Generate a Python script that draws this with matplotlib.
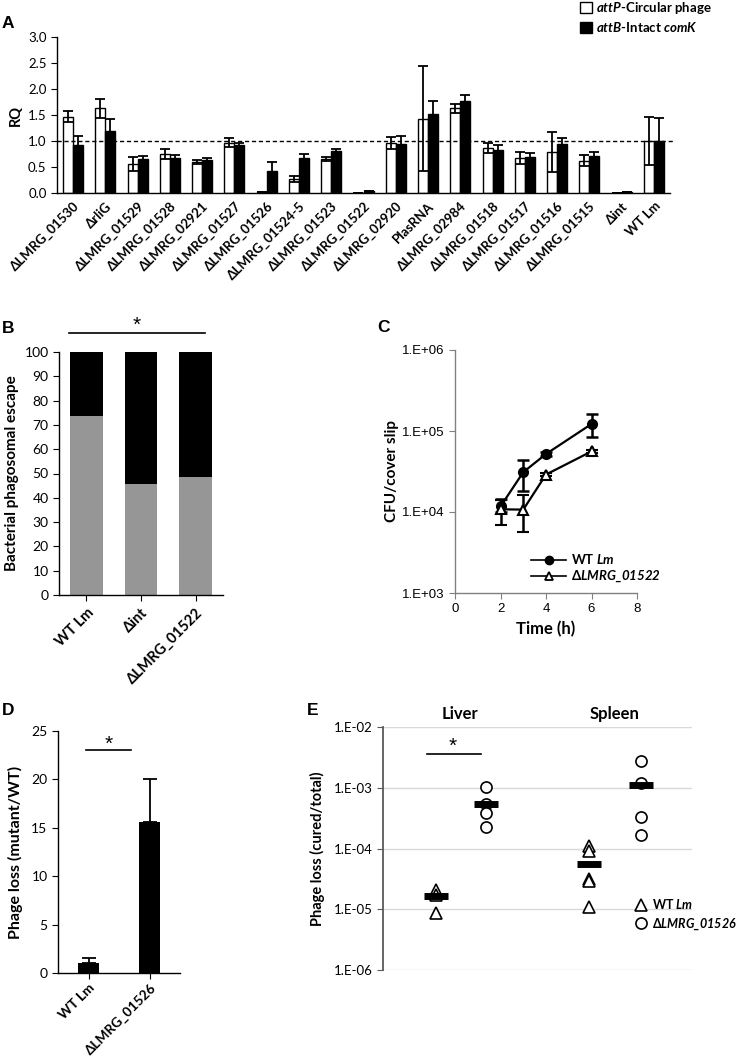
import numpy as np
import matplotlib
matplotlib.use("Agg")
import matplotlib.pyplot as plt
from matplotlib.lines import Line2D
from matplotlib.patches import Patch

plt.rcParams['font.family'] = ['Lato', 'DejaVu Sans']
plt.rcParams['mathtext.fontset'] = 'custom'
plt.rcParams['mathtext.rm'] = 'Lato'
plt.rcParams['mathtext.it'] = 'Lato:italic'
plt.rcParams['mathtext.bf'] = 'Lato:bold'
plt.rcParams['mathtext.bfit'] = 'Lato:italic:bold'
plt.rcParams['axes.linewidth'] = 1.0

# ---- panel A data
a_labels = ['ΔLMRG_01530', 'ΔrliG', 'ΔLMRG_01529', 'ΔLMRG_01528', 'ΔLMRG_02921',
            'ΔLMRG_01527', 'ΔLMRG_01526', 'ΔLMRG_01524-5', 'ΔLMRG_01523', 'ΔLMRG_01522',
            'ΔLMRG_02920', 'PlasRNA', 'ΔLMRG_02984', 'ΔLMRG_01518', 'ΔLMRG_01517',
            'ΔLMRG_01516', 'ΔLMRG_01515', 'Δint', 'WT Lm']
attp = [1.47, 1.63, 0.56, 0.75, 0.59, 0.97, 0.02, 0.27, 0.65, 0.005,
        0.96, 1.43, 1.63, 0.87, 0.67, 0.79, 0.62, 0.005, 1.0]
attp_err = [0.10, 0.18, 0.13, 0.09, 0.04, 0.08, 0.0, 0.06, 0.04, 0.0,
            0.12, 1.01, 0.09, 0.10, 0.11, 0.39, 0.11, 0.0, 0.46]
attb = [0.92, 1.20, 0.65, 0.68, 0.64, 0.93, 0.42, 0.67, 0.81, 0.03,
        0.95, 1.52, 1.76, 0.83, 0.70, 0.95, 0.71, 0.01, 1.0]
attb_err = [0.17, 0.22, 0.07, 0.05, 0.03, 0.04, 0.17, 0.08, 0.04, 0.0,
            0.15, 0.24, 0.12, 0.09, 0.07, 0.10, 0.08, 0.0, 0.44]

# ---- panel B data
b_labels = ['WT Lm', 'Δint', 'ΔLMRG_01522']
b_gray = [73.5, 45.7, 48.5]
b_total = [100, 100, 100]

# ---- panel C data
c_time_wt = [2, 3, 4, 6]
c_wt = [1.17e4, 3.1e4, 5.2e4, 1.22e5]
c_wt_lo = [1.0e4, 1.83e4, 4.9e4, 8.4e4]
c_wt_hi = [1.46e4, 4.4e4, 5.5e4, 1.6e5]
c_time_mut = [2, 3, 4, 6]
c_mut = [1.08e4, 1.07e4, 2.9e4, 5.6e4]
c_mut_lo = [7.0e3, 5.7e3, 2.75e4, 5.3e4]
c_mut_hi = [1.4e4, 1.6e4, 3.05e4, 5.9e4]

# ---- panel D data
d_labels = ['WT Lm', 'ΔLMRG_01526']
d_vals = [1.0, 15.6]
d_err = [0.6, 4.4]

# ---- panel E data
e_liver_wt = [2.1e-5, 1.7e-5, 8.8e-6]
e_liver_mut = [1.04e-3, 5.5e-4, 3.8e-4, 2.3e-4]
e_spleen_wt = [1.12e-4, 9.2e-5, 3.1e-5, 2.9e-5, 1.09e-5]
e_spleen_mut = [2.74e-3, 1.18e-3, 3.3e-4, 1.66e-4]
e_medians = [1.66e-5, 5.5e-4, 5.6e-5, 1.09e-3]

W, H = 739, 1056
fig = plt.figure(figsize=(W / 100, H / 100), dpi=100)


def box(x0, y0, x1, y1):
    return [x0 / W, 1 - y1 / H, (x1 - x0) / W, (y1 - y0) / H]


def plabel(x, y, s):
    fig.text(x / W, 1 - y / H, s, fontsize=12.5, fontweight='bold',
             family=['Liberation Sans'], va='baseline', ha='left')


def star(ax, x, y):
    ax.text(x, y, '*', ha='center', va='bottom', fontsize=15,
            family=['Liberation Sans'])


def clean(ax):
    ax.spines['top'].set_visible(False)
    ax.spines['right'].set_visible(False)


# ================= A
ax = fig.add_axes(box(57, 37, 670, 193))
clean(ax)
n = len(a_labels)
xc = np.arange(n) + 0.5
bw = 0.31
ek = dict(capsize=3.5, elinewidth=1.3, capthick=1.3, ecolor='black')
ax.bar(xc - bw / 2, attp, bw, color='white', edgecolor='black', lw=1.0,
       yerr=attp_err, error_kw=ek)
ax.bar(xc + bw / 2, attb, bw, color='black', edgecolor='black', lw=1.0,
       yerr=attb_err, error_kw=ek)
ax.axhline(1.0, xmin=0, xmax=1.008, color='black', ls=(0, (3, 2)), lw=1.0, clip_on=False)
ax.set_xlim(0, n)
ax.set_ylim(0, 3)
ax.set_yticks(np.arange(0, 3.01, 0.5))
ax.set_yticklabels([f'{v:.1f}' for v in np.arange(0, 3.01, 0.5)], fontsize=9.5)
ax.set_xticks(xc)
ax.set_xticklabels(a_labels, rotation=45, ha='right', rotation_mode='anchor',
                   fontsize=9.5, fontweight='bold')
ax.tick_params(axis='x', length=0, pad=5)
ax.tick_params(axis='y', length=4, direction='out')
ax.set_ylabel('RQ', fontsize=10.5, fontweight='bold', labelpad=4)
handles = [Patch(facecolor='white', edgecolor='black', lw=1.0),
           Patch(facecolor='black', edgecolor='black')]
fig.legend(handles, [r'$\mathbfit{attP}$-Circular phage', r'$\mathbfit{attB}$-Intact $\mathbfit{comK}$'],
           loc='upper left', bbox_to_anchor=(580 / W, 1 - 0 / H), frameon=False,
           prop=dict(weight='bold', size=9.5), handlelength=0.9, handleheight=0.9,
           handletextpad=0.3, labelspacing=0.3, borderaxespad=0, borderpad=0)
plabel(2, 28, 'A')

# ================= B
ax = fig.add_axes(box(59, 352, 223, 595))
clean(ax)
xb = np.arange(len(b_labels))
ax.bar(xb, b_gray, 0.6, color='#969696')
ax.bar(xb, np.array(b_total) - np.array(b_gray), 0.6, bottom=b_gray, color='black')
ax.set_xlim(-0.5, 2.5)
ax.set_ylim(0, 100)
ax.set_yticks(np.arange(0, 101, 10))
ax.tick_params(axis='y', labelsize=10, length=4)
ax.set_xticks(xb)
ax.set_xticklabels(b_labels, rotation=45, ha='right', rotation_mode='anchor',
                   fontsize=10.5, fontweight='bold')
ax.tick_params(axis='x', length=4, pad=4)
ax.set_ylabel('Bacterial phagosomal escape', fontsize=11, fontweight='bold', labelpad=4)
ax.plot([-0.32, 2.17], [108, 108], color='black', lw=1.2, clip_on=False)
star(ax, 0.93, 107)
plabel(2, 333, 'B')

# ================= C
ax = fig.add_axes(box(455, 350, 637, 593))
clean(ax)
ax.set_yscale('log')
wt_err = [np.array(c_wt) - np.array(c_wt_lo), np.array(c_wt_hi) - np.array(c_wt)]
mut_err = [np.array(c_mut) - np.array(c_mut_lo), np.array(c_mut_hi) - np.array(c_mut)]
ax.errorbar(c_time_wt, c_wt, yerr=wt_err, color='black', marker='o', ms=7,
            lw=1.6, capsize=4, capthick=1.8, elinewidth=1.8)
ax.errorbar(c_time_mut, c_mut, yerr=mut_err, color='black', marker='^', ms=7,
            mfc='white', mew=1.5, lw=1.6, capsize=4, capthick=1.8, elinewidth=1.8)
ax.set_xlim(0, 8)
ax.set_ylim(1e3, 1e6)
ax.set_xticks([0, 2, 4, 6, 8])
ax.set_yticks([1e3, 1e4, 1e5, 1e6])
ax.set_yticklabels(['1.E+03', '1.E+04', '1.E+05', '1.E+06'])
ax.minorticks_off()
for lab in ax.get_xticklabels() + ax.get_yticklabels():
    lab.set_family(['Liberation Sans'])
    lab.set_fontsize(9.5)
ax.tick_params(axis='y', length=4, color='#808080')
ax.tick_params(axis='x', length=4, color='#808080')
ax.spines['left'].set_color('#808080')
ax.spines['bottom'].set_color('#808080')
ax.set_xlabel('Time (h)', fontsize=12, fontweight='bold', labelpad=4)
ax.set_ylabel('CFU/cover slip', fontsize=11, fontweight='bold', labelpad=2)
hc1 = Line2D([], [], color='black', lw=1.2, marker='o', ms=6)
hc2 = Line2D([], [], color='black', lw=1.2, marker='^', ms=6, mfc='white', mew=1.3)
ax.legend([hc1, hc2], [r'WT $\mathbfit{Lm}$', r'Δ$\mathbfit{LMRG\_01522}$'],
          loc='lower left', bbox_to_anchor=(0.42, 0.035), frameon=False,
          prop=dict(weight='bold', size=9.5), handlelength=2.6, handletextpad=0.4,
          labelspacing=0.2, borderaxespad=0, borderpad=0)
plabel(377, 332, 'C')

# ================= D
ax = fig.add_axes(box(58, 731, 180, 973))
clean(ax)
xd = np.arange(len(d_labels))
ax.bar(xd, d_vals, 0.33, color='black', yerr=[np.zeros(len(d_err)), d_err],
       error_kw=dict(capsize=5, elinewidth=1.3, capthick=1.3))
ax.set_xlim(-0.5, 1.5)
ax.set_ylim(0, 25)
ax.set_yticks(np.arange(0, 26, 5))
ax.tick_params(axis='y', labelsize=10, length=4)
ax.set_xticks(xd)
ax.set_xticklabels(d_labels, rotation=45, ha='right', rotation_mode='anchor',
                   fontsize=9.8, fontweight='bold')
ax.tick_params(axis='x', length=4, pad=2)
ax.set_ylabel('Phage loss (mutant/WT)', fontsize=11.5, fontweight='bold', labelpad=6)
ax.plot([-0.04, 0.7], [23, 23], color='black', lw=1.2)
star(ax, 0.33, 22.6)
plabel(2, 715, 'D')

# ================= E
ax = fig.add_axes(box(383, 727, 692, 970))
ax.set_yscale('log')
for s in ['top', 'right', 'bottom']:
    ax.spines[s].set_visible(False)
ax.spines['left'].set_color('#595959')
ax.spines['left'].set_linewidth(1.3)
ax.set_ylim(1e-6, 1e-2)
ax.set_xlim(0, 6)
for yv in [1e-6, 1e-5, 1e-4, 1e-3, 1e-2]:
    ax.axhline(yv, color='#d9d9d9', lw=1.0, zorder=0)
groups = [(1.03, e_liver_wt, '^'), (2.0, e_liver_mut, 'o'),
          (4.0, e_spleen_wt, '^'), (5.0, e_spleen_mut, 'o')]
for (xg, vals, mk) in groups:
    ax.plot([xg] * len(vals), vals, ls='none', marker=mk, ms=8, mfc='white',
            mec='black', mew=1.2, zorder=3)
ax.plot([g[0] for g in groups], e_medians, ls='none', marker='_', ms=17, mew=5,
        color='black', zorder=4)
ax.set_yticks([1e-6, 1e-5, 1e-4, 1e-3, 1e-2])
ax.set_yticklabels(['1.E-06', '1.E-05', '1.E-04', '1.E-03', '1.E-02'], fontsize=9.5)
ax.minorticks_off()
ax.set_xticks([])
ax.tick_params(axis='y', length=4, color='#595959')
ax.set_ylabel('Phage loss (cured/total)', fontsize=10.5, fontweight='bold', labelpad=6)
ax.text(1.5, 1.2e-2, 'Liver', ha='center', va='bottom', fontsize=12, fontweight='bold')
ax.text(4.5, 1.2e-2, 'Spleen', ha='center', va='bottom', fontsize=12, fontweight='bold')
ax.plot([0.85, 1.9], [3.6e-3, 3.6e-3], color='black', lw=1.2)
star(ax, 1.35, 3.4e-3)
h1 = Line2D([], [], ls='none', marker='^', ms=8, mfc='white', mec='black', mew=1.2)
h2 = Line2D([], [], ls='none', marker='o', ms=8, mfc='white', mec='black', mew=1.2)
ax.legend([h1, h2], [r'WT $\mathbfit{Lm}$', r'Δ$\mathbfit{LMRG\_01526}$'],
          loc='upper left', bbox_to_anchor=(0.815, 0.3), frameon=False,
          prop=dict(weight='bold', size=9), handlelength=1.0, handletextpad=0.4,
          labelspacing=0.4, borderaxespad=0, borderpad=0)
plabel(307, 715, 'E')

fig.savefig('out.png', dpi=100)
